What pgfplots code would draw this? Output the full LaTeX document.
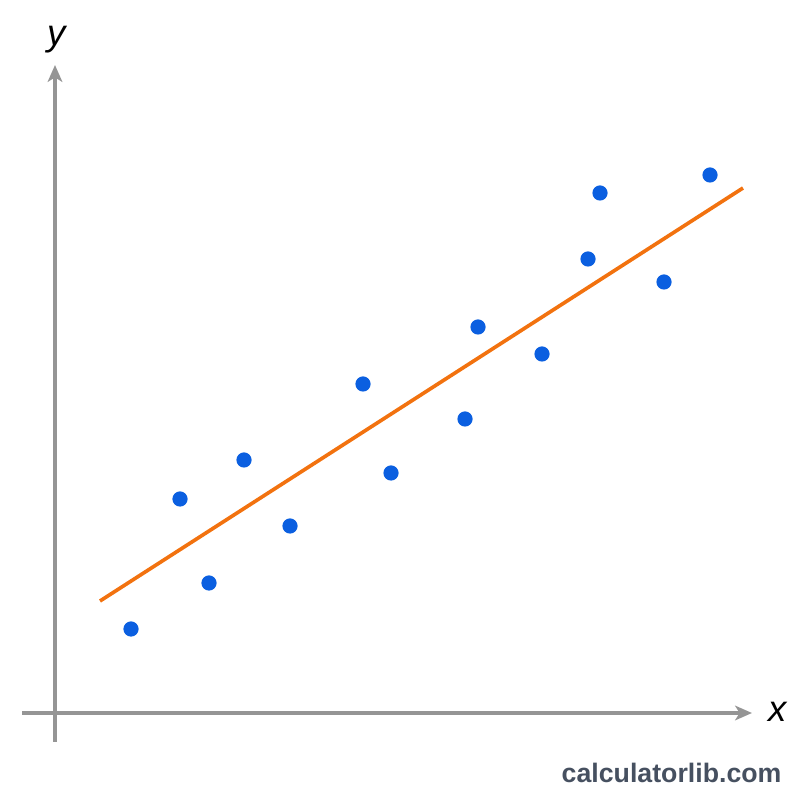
\documentclass[border=0pt]{standalone}
\usepackage{pgfplots}
\pgfplotsset{compat=1.18}
\usepackage{fontspec}
\setmainfont{Liberation Sans}
\usetikzlibrary{arrows.meta}
\definecolor{ptblue}{HTML}{0B5FE0}
\definecolor{fitorange}{HTML}{F2720F}
\definecolor{axgray}{HTML}{959595}
\definecolor{wmgray}{HTML}{465060}
\begin{document}
\begin{tikzpicture}
\begin{axis}[
  scale only axis, width=10cm, height=10cm,
  xmin=0, xmax=800, ymin=0, ymax=800,
  axis line style={draw=none}, ticks=none,
  clip=false,
]
% axes (pixel-space coordinates, y = 800 - row)
\addplot[axgray, line width=1.1pt, -{Stealth[length=6pt, width=5.2pt, inset=1.6pt]}] coordinates {(55,58) (55,735)};
\addplot[axgray, line width=1.1pt, -{Stealth[length=6pt, width=5.2pt, inset=1.6pt]}] coordinates {(22,87) (752,87)};
% fit line
\addplot[fitorange, line width=1.3pt] coordinates {(100,199) (743,612)};
% data points
\addplot[only marks, mark=*, mark size=2.5pt, mark options={draw=ptblue, fill=ptblue}] coordinates {
(131,171) (180,301) (209,217) (244,340) (290,274) (363,416) (391,327)
(465,381) (478,473) (542,446) (588,541) (600,607) (664,518) (710,625)
};
\node[font=\fontsize{13}{14}\selectfont\itshape] at (axis cs:57,760) {y};
\node[font=\fontsize{13}{14}\selectfont\itshape] at (axis cs:778,88) {x};
\node[anchor=east, font=\fontsize{9.5}{11}\selectfont\bfseries, text=wmgray, inner sep=0pt] at (axis cs:782,27) {calculatorlib.com};
\end{axis}
\end{tikzpicture}
\end{document}
